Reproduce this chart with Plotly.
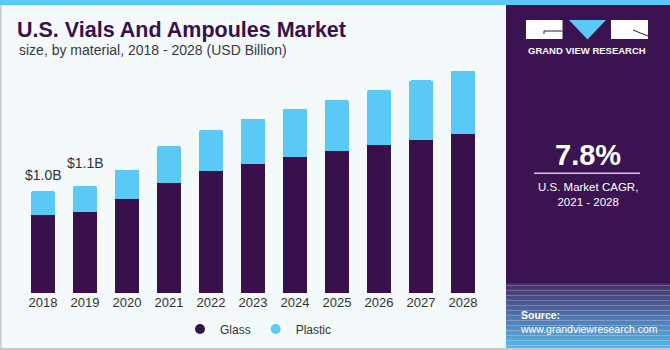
import plotly.graph_objects as go

# ---------------- data ----------------
years = ["2018", "2019", "2020", "2021", "2022", "2023", "2024", "2025", "2026", "2027", "2028"]
glass = [0.80, 0.83, 0.96, 1.12, 1.24, 1.32, 1.39, 1.45, 1.51, 1.56, 1.62]
plastic = [0.24, 0.26, 0.30, 0.38, 0.42, 0.46, 0.49, 0.52, 0.56, 0.61, 0.65]
label_years = ["2018", "2019"]
label_texts = ["$1.0B", "$1.1B"]
label_shifts = [16, 23]

W, H = 670, 350
PURPLE = "#38104A"
BLUE = "#5BC9F5"
BG = "#F4F9FC"
FONT = "Liberation Sans, Arial, sans-serif"


def px(x):
    return x / W


def py(y):
    return (H - y) / H


fig = go.Figure()
fig.add_trace(go.Bar(x=years, y=glass, name="Glass", marker=dict(color=PURPLE, line=dict(width=0)),
                     showlegend=False, hoverinfo="x+y"))
fig.add_trace(go.Bar(x=years, y=plastic, name="Plastic", marker=dict(color=BLUE, line=dict(width=0)),
                     showlegend=False, hoverinfo="x+y"))
# legend entries (circles)
fig.add_trace(go.Scatter(x=[years[0]], y=[None], mode="markers", name="Glass",
                         marker=dict(color=PURPLE, size=10, symbol="circle")))
fig.add_trace(go.Scatter(x=[years[0]], y=[None], mode="markers", name="Plastic",
                         marker=dict(color=BLUE, size=10, symbol="circle")))

totals = [g + p for g, p in zip(glass, plastic)]
annotations = []
for yr, txt, sh in zip(label_years, label_texts, label_shifts):
    i = years.index(yr)
    annotations.append(dict(x=i, y=totals[i], xref="x", yref="y", text=txt, showarrow=False,
                            yanchor="middle", yshift=sh, font=dict(size=14, color="#333333", family=FONT)))

# subtitle
annotations.append(dict(x=px(17), y=py(50), xref="paper", yref="paper", xanchor="left", yanchor="middle",
                        text="size, by material, 2018 - 2028 (USD Billion)", showarrow=False,
                        font=dict(size=14, color="#3a3a3a", family=FONT)))
# right panel texts
annotations.append(dict(x=px(587), y=py(50), xref="paper", yref="paper", xanchor="center", yanchor="middle",
                        text="<b>GRAND VIEW RESEARCH</b>", showarrow=False,
                        font=dict(size=9.5, color="white", family=FONT)))
annotations.append(dict(x=px(588), y=py(155), xref="paper", yref="paper", xanchor="center", yanchor="middle",
                        text="<b>7.8%</b>", showarrow=False, font=dict(size=29, color="white", family=FONT)))
annotations.append(dict(x=px(588), y=py(194), xref="paper", yref="paper", xanchor="center", yanchor="middle",
                        text="U.S. Market CAGR,<br>2021 - 2028", showarrow=False,
                        font=dict(size=11.5, color="white", family=FONT)))
annotations.append(dict(x=px(518), y=py(322), xref="paper", yref="paper", xanchor="left", yanchor="middle",
                        text="<b>Source:</b><br>www.grandviewresearch.com", showarrow=False, align="left",
                        font=dict(size=10.5, color="white", family=FONT)))

shapes = []
# top strip
shapes.append(dict(type="rect", xref="paper", yref="paper", x0=0, x1=1, y0=py(5), y1=1,
                   fillcolor=BLUE, line=dict(width=0), layer="below"))
# left and bottom border
shapes.append(dict(type="rect", xref="paper", yref="paper", x0=0, x1=px(1.5), y0=0, y1=py(5),
                   fillcolor="#C8C8C8", line=dict(width=0), layer="below"))
shapes.append(dict(type="rect", xref="paper", yref="paper", x0=0, x1=1, y0=0, y1=py(348),
                   fillcolor="#C8C8C8", line=dict(width=0), layer="below"))
# right panel
shapes.append(dict(type="rect", xref="paper", yref="paper", x0=px(506), x1=1, y0=py(283), y1=py(5),
                   fillcolor="#3A1350", line=dict(width=0), layer="below"))
# gradient at panel bottom
c0 = (0x45, 0x2E, 0x6A)
c1 = (0x5A, 0xB6, 0xE8)
n = 26
y_top, y_bot = 283, 348
for i in range(n):
    t = i / (n - 1)
    c = tuple(int(round(a + (b - a) * t)) for a, b in zip(c0, c1))
    ya = y_top + (y_bot - y_top) * i / n
    yb = y_top + (y_bot - y_top) * (i + 1) / n
    shapes.append(dict(type="rect", xref="paper", yref="paper", x0=px(506), x1=1, y0=py(yb), y1=py(ya),
                       fillcolor="rgb(%d,%d,%d)" % c, line=dict(width=0), layer="below"))
# logo: left box, triangle, right box
shapes.append(dict(type="rect", xref="paper", yref="paper", x0=px(526), x1=px(562.5), y0=py(39), y1=py(20),
                   fillcolor="white", line=dict(width=0)))
shapes.append(dict(type="line", xref="paper", yref="paper", x0=px(544), x1=px(562.5), y0=py(31), y1=py(31),
                   line=dict(color=PURPLE, width=1)))
shapes.append(dict(type="line", xref="paper", yref="paper", x0=px(544), x1=px(544), y0=py(31), y1=py(34),
                   line=dict(color=PURPLE, width=1)))
shapes.append(dict(type="path", xref="paper", yref="paper",
                   path="M %f,%f L %f,%f L %f,%f Z" % (px(569), py(20), px(606), py(20), px(587.5), py(39.5)),
                   fillcolor=BLUE, line=dict(width=0)))
shapes.append(dict(type="rect", xref="paper", yref="paper", x0=px(611), x1=px(648), y0=py(39), y1=py(20),
                   fillcolor="white", line=dict(width=0)))
shapes.append(dict(type="line", xref="paper", yref="paper", x0=px(633), x1=px(648), y0=py(30), y1=py(36),
                   line=dict(color=PURPLE, width=1)))
# CAGR divider
shapes.append(dict(type="line", xref="paper", yref="paper", x0=px(534), x1=px(640), y0=py(173.3), y1=py(173.3),
                   line=dict(color="#CFC6DC", width=1.5)))

fig.update_layout(
    width=W, height=H,
    margin=dict(l=0, r=0, t=0, b=0, pad=0),
    paper_bgcolor=BG, plot_bgcolor=BG,
    template="none",
    barmode="stack", bargap=0.43, barcornerradius=2,
    font=dict(family=FONT, color="#333333"),
    title=dict(text="<b>U.S. Vials And Ampoules Market</b>", x=px(17), xanchor="left", xref="paper",
               y=py(29), yanchor="middle", yref="paper",
               font=dict(size=21.5, color=PURPLE, family=FONT)),
    xaxis=dict(domain=[px(22), px(484)], type="category", categoryorder="array", categoryarray=years,
               range=[-0.5, len(years) - 0.5], showgrid=False, zeroline=False, showline=False,
               ticks="", tickfont=dict(size=13, color="#333333", family=FONT), automargin=False,
               fixedrange=True),
    yaxis=dict(domain=[py(293), py(48)], range=[0, 2.5], visible=False, showgrid=False, automargin=False,
               fixedrange=True),
    legend=dict(orientation="h", x=px(180), xanchor="left", y=py(329), yanchor="middle", traceorder="normal",
                font=dict(size=12, color="#333333", family=FONT), bgcolor="rgba(0,0,0,0)",
                itemclick=False, itemdoubleclick=False),
    showlegend=True,
    annotations=annotations,
    shapes=shapes,
)

fig.write_html("out.html")
